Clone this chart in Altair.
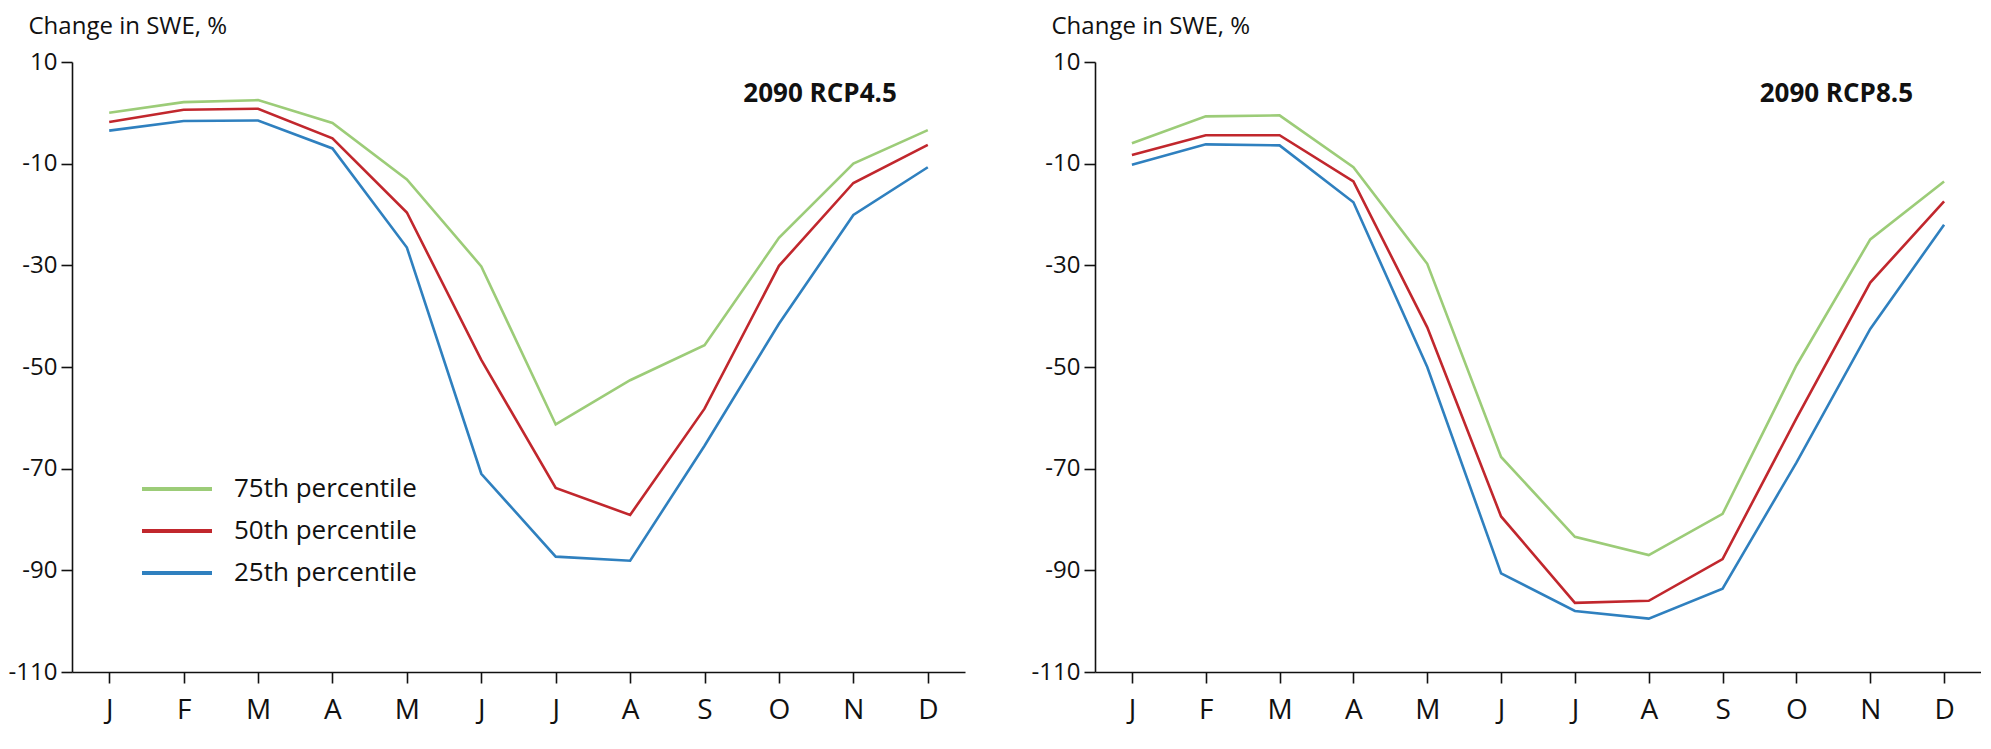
import altair as alt
import pandas as pd

months = ["Jan", "Feb", "Mar", "Apr", "May", "Jun", "Jul", "Aug", "Sep", "Oct", "Nov", "Dec"]
series_names = ["75th percentile", "50th percentile", "25th percentile"]
series_colors = ["#9ccc78", "#c1272d", "#2f80bf"]

rcp45_p75 = [0.0, 2.1, 2.5, -2.0, -13.1, -30.2, -61.3, -52.6, -45.7, -24.6, -10.0, -3.4]
rcp45_p50 = [-1.8, 0.6, 0.8, -5.0, -19.6, -48.6, -73.8, -79.1, -58.2, -30.1, -13.8, -6.3]
rcp45_p25 = [-3.5, -1.6, -1.5, -7.0, -26.5, -71.0, -87.3, -88.1, -65.5, -41.5, -20.1, -10.7]

rcp85_p75 = [-6.0, -0.7, -0.5, -10.7, -29.7, -67.7, -83.4, -87.0, -78.9, -49.7, -24.9, -13.5]
rcp85_p50 = [-8.3, -4.4, -4.4, -13.5, -42.2, -79.4, -96.4, -96.0, -87.8, -60.1, -33.4, -17.4]
rcp85_p25 = [-10.2, -6.2, -6.4, -17.6, -50.0, -90.6, -98.0, -99.5, -93.6, -68.8, -42.5, -22.0]

y_ticks = [10, -10, -30, -50, -70, -90, -110]
panel_labels = ["2090 RCP4.5", "2090 RCP8.5"]
y_title = "Change in SWE, %"

FONT = "Open Sans"


def long_df(p75, p50, p25):
    rows = []
    for name, vals in zip(series_names, [p75, p50, p25]):
        for m, v in zip(months, vals):
            rows.append({"month": m, "value": v, "series": name})
    return pd.DataFrame(rows)


def panel(df, label, width, show_legend):
    x = alt.X(
        "month:O",
        sort=months,
        scale=alt.Scale(type="point", padding=0.5),
        axis=alt.Axis(
            title=None,
            labelExpr="substring(datum.label, 0, 1)",
            labelAngle=0,
            labelFontSize=28,
            labelPadding=13,
            tickSize=11,
        ),
    )
    y = alt.Y(
        "value:Q",
        scale=alt.Scale(domain=[-110, 10], nice=False, zero=False),
        axis=alt.Axis(
            values=y_ticks,
            labelExpr="'' + datum.value",
            title=y_title,
            titleAngle=0,
            titleAlign="left",
            titleBaseline="middle",
            titleX=-44,
            titleY=-36,
            titleFontSize=24,
            titleFontWeight="normal",
            titleFont=FONT,
            labelFontSize=24,
            labelPadding=4,
            tickSize=11,
            grid=False,
        ),
    )
    if show_legend:
        legend = alt.Legend(
            orient="none",
            legendX=68,
            legendY=406,
            title=None,
            symbolType="stroke",
            symbolStrokeWidth=4,
            symbolSize=4900,
            clipHeight=42,
            labelFontSize=26,
            labelFont=FONT,
            labelOffset=20,
            labelLimit=400,
            rowPadding=0,
            labelColor="#111111",
        )
    else:
        legend = None
    color = alt.Color(
        "series:N",
        scale=alt.Scale(domain=series_names, range=series_colors),
        legend=legend,
    )
    lines = alt.Chart(df).mark_line(strokeWidth=2.6).encode(
        x=x, y=y, color=color, order=alt.Order("series:N")
    )
    lab = pd.DataFrame({"month": [months[-1]], "value": [3.7], "text": [label]})
    txt = alt.Chart(lab).mark_text(
        align="right", baseline="middle", dx=-31, fontSize=26,
        fontWeight="bold", font=FONT, color="#111111"
    ).encode(x=alt.X("month:O", sort=months), y="value:Q", text="text:N")
    return alt.layer(lines, txt).properties(width=width, height=610)


left = panel(long_df(rcp45_p75, rcp45_p50, rcp45_p25), panel_labels[0], 893, True)
right = panel(long_df(rcp85_p75, rcp85_p50, rcp85_p25), panel_labels[1], 886, False)

chart = (
    alt.hconcat(left, right, spacing=66)
    .resolve_scale(color="independent")
    .resolve_legend(color="independent")
    .properties(padding={"left": 0, "top": 6, "right": 0, "bottom": 14})
    .configure_view(stroke=None)
    .configure_axis(
        domainColor="#111111",
        domainWidth=1.6,
        tickColor="#111111",
        tickWidth=1.6,
        labelColor="#111111",
        titleColor="#111111",
        labelFont=FONT,
        titleFont=FONT,
    )
)

chart.save("out.html", embed_options={"renderer": "svg", "actions": False})
